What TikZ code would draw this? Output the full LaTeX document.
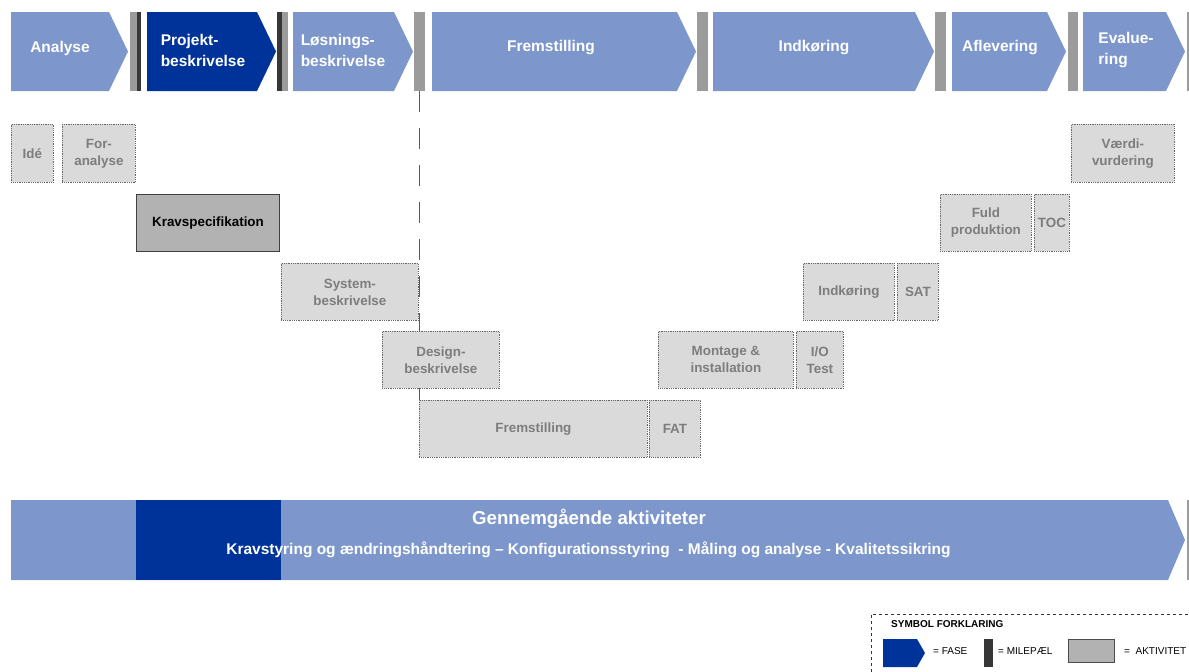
\documentclass[tikz,border=0pt]{standalone}
\usepackage{fontspec}
\setmainfont{Liberation Sans}
\usepackage{tikz}
\usetikzlibrary{positioning,calc,backgrounds}

\definecolor{faselys}{RGB}{125,151,204}
\definecolor{fasemork}{RGB}{0,51,153}
\definecolor{milegraa}{RGB}{155,155,155}
\definecolor{milemork}{RGB}{55,55,55}
\definecolor{aktgraa}{RGB}{218,218,218}
\definecolor{akttekst}{RGB}{125,125,125}
\definecolor{kravgraa}{RGB}{178,178,178}

\begin{document}
\begin{tikzpicture}[x=1pt, y=-1pt,
    fase/.style={fill=faselys},
    fasetekst/.style={text=white, font=\fontsize{15.5}{21}\selectfont\bfseries, align=left, inner sep=0pt},
    milepael/.style={fill=milegraa, minimum width=11pt, minimum height=79pt, anchor=north west, inner sep=0pt},
    aktivitet/.style={draw=black!60, densely dotted, line width=.8pt, fill=aktgraa, text=akttekst, minimum height=57pt, anchor=north west, inner sep=1pt, align=center, font=\fontsize{13.4}{17}\selectfont\bfseries},
    forklaring/.style={anchor=west, inner sep=0pt, font=\fontsize{10}{12}\selectfont},
    ]
        \useasboundingbox (0,0) rectangle (1189,672);

        % faser
        \fill[fase] (11,12) -- (109,12) -- (128,51.5) -- (109,91) -- (11,91) -- cycle;
        \node (analyse) [fasetekst] at (60,48) {Analyse};
        \fill[fasemork] (147,12) -- (257,12) -- (276,51.5) -- (257,91) -- (147,91) -- cycle;
        \node (projekt) [fasetekst] at (203,50) {Projekt-\\beskrivelse};
        \fill[fase] (293,12) -- (394,12) -- (413,51.5) -- (394,91) -- (293,91) -- cycle;
        \node (loesning) [fasetekst] at (343,50) {Løsnings-\\beskrivelse};
        \fill[fase] (432,12) -- (677,12) -- (696,51.5) -- (677,91) -- (432,91) -- cycle;
        \node (fremfase) [fasetekst] at (551,48) {Fremstilling};
        \fill[fase] (713,12) -- (915,12) -- (934,51.5) -- (915,91) -- (713,91) -- cycle;
        \node (indkfase) [fasetekst] at (814,48) {Indkøring};
        \fill[fase] (952,12) -- (1047,12) -- (1066,51.5) -- (1047,91) -- (952,91) -- cycle;
        \node (aflevering) [fasetekst] at (1000,48) {Aflevering};
        \fill[fase] (1083,12) -- (1166,12) -- (1185,51.5) -- (1166,91) -- (1083,91) -- cycle;
        \node (evaluering) [fasetekst] at (1126,50) {Evalue-\\ring};

        % milepæle
        \node (ms1) [milepael] at (130,12) {};
        \fill[milemork] (136.5,12) rectangle (ms1.south east);
        \node (ms2) [milepael] at (277,12) {};
        \fill[milemork] (ms2.north west) rectangle (282,91);
        \node (ms3) [milepael] at (414,12) {};
        \node (ms4) [milepael] at (697,12) {};
        \node (ms5) [milepael] at (935,12) {};
        \node (ms6) [milepael, minimum width=10pt] at (1068,12) {};
        \node (ms7) [milepael, minimum width=4pt] at (1187,12) {};

        % aktiviteter
        \node (ide) [aktivitet, minimum width=42pt, minimum height=58pt] at (11,124) {Idé};
        \node (foranalyse) [aktivitet, minimum width=73pt, minimum height=58pt] at (62,124) {For-\\analyse};
        \node (krav) [aktivitet, solid, draw=black!75, line width=1pt, fill=kravgraa, text=black, minimum width=143pt] at (136,194) {Kravspecifikation};
        \node (system) [aktivitet, minimum width=137pt] at (281,263) {System-\\beskrivelse};
        \node (design) [aktivitet, minimum width=117pt] at (382,331) {Design-\\beskrivelse};
        \node (frem) [aktivitet, minimum width=228pt] at (419,400) {Fremstilling};
        \node (fat) [aktivitet, minimum width=51pt] at (649,400) {FAT};
        \node (montage) [aktivitet, minimum width=135pt] at (658,331) {Montage \&\\installation};
        \node (iotest) [aktivitet, minimum width=47pt] at (796,331) {I/O\\Test};
        \node (indk) [aktivitet, minimum width=91pt] at (803,263) {Indkøring};
        \node (sat) [aktivitet, minimum width=41pt] at (897,263) {SAT};
        \node (fuld) [aktivitet, minimum width=91pt] at (940,194) {Fuld\\produktion};
        \node (toc) [aktivitet, minimum width=35pt] at (1034,194) {TOC};
        \node (vaerdi) [aktivitet, minimum width=103pt, minimum height=58pt] at (1071,124) {Værdi-\\vurdering};

        \begin{scope}[on background layer]
            \draw[black!65, line width=1pt, dash pattern=on 21pt off 16pt] (ms3.south) -- (ms3.south |- frem.north);
        \end{scope}

        % gennemgående aktiviteter
        \fill[fase] (11,500) -- (1168,500) -- (1185,540) -- (1168,580) -- (11,580) -- cycle;
        \fill[fasemork] (136,500) rectangle (281,580);
        \node (ms8) [milepael, minimum width=4pt, minimum height=80pt] at (1187,500) {};
        \node (gennem) [text=white, font=\fontsize{18.7}{22}\selectfont\bfseries] at (589,519) {Gennemgående aktiviteter};
        \node (tvaers) [text=white, font=\fontsize{15.5}{18}\selectfont\bfseries] at (588.5,550) {Kravstyring og ændringshåndtering – Konfigurationsstyring\ \ - Måling og analyse - Kvalitetssikring};

        % symbolforklaring
        \draw[black!80, dashed, line width=.8pt] (871,672) |- (1189,614);
        \node (symbol) [forklaring, font=\fontsize{10}{12}\selectfont\bfseries] at (891,624) {SYMBOL FORKLARING};
        \fill[fasemork] (883,639) -- (917,639) -- (925,653) -- (917,667) -- (883,667) -- cycle;
        \node (fasetxt) [forklaring] at (933,651) {= FASE};
        \node (milebar) [fill=milemork, minimum width=9pt, minimum height=28pt, inner sep=0pt, anchor=north west] at (984,639) {};
        \node (miletxt) [forklaring] at (998,651) {= MILEPÆL};
        \node (aktbox) [draw=black!70, line width=1pt, fill=kravgraa, minimum width=46pt, minimum height=23pt, inner sep=0pt, anchor=north west] at (1068,639) {};
        \node (akttxt) [forklaring] at (1124,651) {=\ \ AKTIVITET};
\end{tikzpicture}
\end{document}
